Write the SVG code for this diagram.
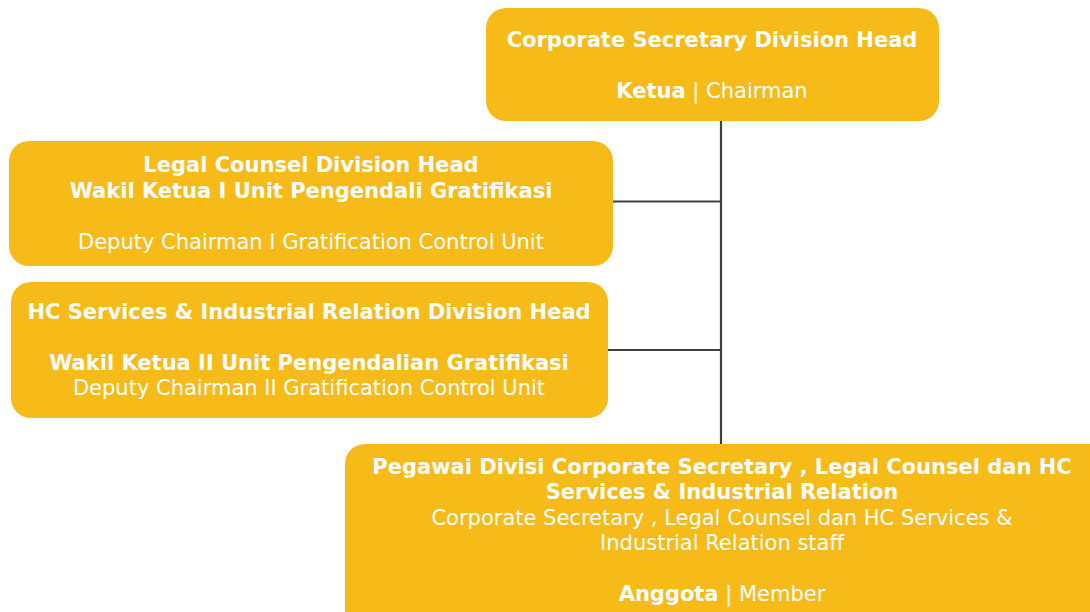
<svg xmlns="http://www.w3.org/2000/svg" width="1090" height="612" viewBox="0 0 1090 612">
<style>
.box{fill:#F7BB19;}
text{font-family:"DejaVu Sans",sans-serif;font-size:21px;fill:#FFFFFF;text-anchor:middle;}
.b{font-weight:bold;}
.c{stroke:#404040;stroke-width:2.2;fill:none;}
</style>
<rect width="1090" height="612" fill="#FFFFFF"/>
<g id="connectors">
<line class="c" x1="721" y1="121" x2="721" y2="444"/>
<line class="c" x1="613" y1="201.5" x2="721" y2="201.5"/>
<line class="c" x1="608" y1="350" x2="721" y2="350"/>
</g>
<g id="chairman">
<rect class="box" x="486" y="8" width="453" height="113" rx="20"/>
<text class="b" x="712" y="47">Corporate Secretary Division Head</text>
<text x="712" y="98"><tspan class="b">Ketua</tspan> | Chairman</text>
</g>
<g id="deputy1">
<rect class="box" x="9" y="141" width="604" height="125" rx="20"/>
<text class="b" x="311" y="172">Legal Counsel Division Head</text>
<text class="b" x="311" y="198">Wakil Ketua I Unit Pengendali Gratifikasi</text>
<text x="311" y="249">Deputy Chairman I Gratification Control Unit</text>
</g>
<g id="deputy2">
<rect class="box" x="11" y="282" width="597" height="136" rx="20"/>
<text class="b" x="309" y="319">HC Services &amp; Industrial Relation Division Head</text>
<text class="b" x="309" y="370">Wakil Ketua II Unit Pengendalian Gratifikasi</text>
<text x="309" y="395">Deputy Chairman II Gratification Control Unit</text>
</g>
<g id="members">
<rect class="box" x="345" y="444" width="765" height="190" rx="20"/>
<text class="b" x="722" y="474">Pegawai Divisi Corporate Secretary , Legal Counsel dan HC</text>
<text class="b" x="722" y="499">Services &amp; Industrial Relation</text>
<text x="722" y="525">Corporate Secretary , Legal Counsel dan HC Services &amp;</text>
<text x="722" y="550">Industrial Relation staff</text>
<text x="722" y="601"><tspan class="b">Anggota</tspan> | Member</text>
</g>
</svg>
